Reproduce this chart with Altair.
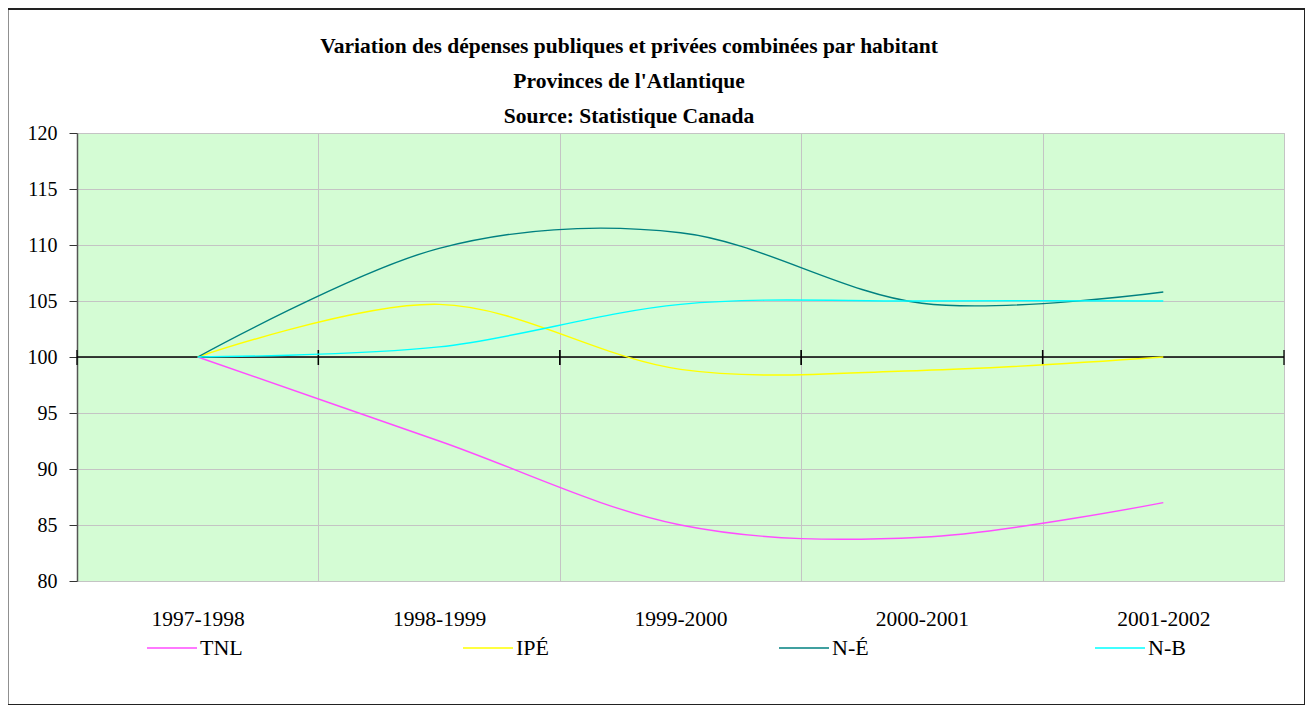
import altair as alt
import pandas as pd

# ---- data ----
periods = ["1997-1998", "1998-1999", "1999-2000", "2000-2001", "2001-2002"]
series_names = ["TNL", "IPÉ", "N-É", "N-B"]
series_colors = ["#ff4dff", "#ffff00", "#008080", "#00ffff"]
tnl = [100.0, 92.5, 85.0, 83.9, 87.0]
ipe = [100.0, 104.7, 98.9, 98.8, 100.0]
ne = [100.0, 109.7, 111.1, 104.8, 105.8]
nb = [100.0, 100.9, 104.7, 105.0, 105.0]
y_ticks = [80, 85, 90, 95, 100, 105, 110, 115, 120]
title_lines = [
    "Variation des dépenses publiques et privées combinées par habitant",
    "Provinces de l'Atlantique",
    "Source: Statistique Canada",
]

rows = []
for name, vals in zip(series_names, [tnl, ipe, ne, nb]):
    for p, v in zip(periods, vals):
        rows.append({"Période": p, "Série": name, "Valeur": v})
df = pd.DataFrame(rows)
per_df = pd.DataFrame({"Période": periods})
one_df = pd.DataFrame({"k": [0]})

FONT = "Liberation Serif"
W, H = 1207, 448

xscale = alt.Scale(type="band", domain=periods, paddingInner=0, paddingOuter=0)
yscale = alt.Scale(domain=[80, 120], nice=False, zero=False)

x_axis = alt.Axis(
    title=None, tickBand="extent", grid=True, gridColor="#c4c4c4", gridWidth=1,
    ticks=False, domain=False, labelFont=FONT, labelFontSize=21.5,
    labelColor="black", labelPadding=27, labelAngle=0,
)
y_axis = alt.Axis(
    title=None, values=y_ticks, grid=True, gridColor="#c4c4c4", gridWidth=1,
    domain=True, domainColor="#555555", domainWidth=1.5, ticks=True,
    tickColor="#333333", tickSize=8, labelFont=FONT, labelFontSize=20,
    labelColor="black", labelPadding=12,
)

# horizontal axis line at 100
hline = alt.Chart(one_df).mark_rule(color="black", strokeWidth=1.3).encode(
    y=alt.Y(datum=100, scale=yscale, axis=y_axis)
)

# crossing tick marks on the 100 line at category boundaries
ticks_start = alt.Chart(per_df).mark_rule(
    color="black", strokeWidth=1.3, yOffset=-7, y2Offset=8
).encode(
    x=alt.X("Période:N", scale=xscale, axis=x_axis, bandPosition=0),
    y=alt.Y(datum=100, scale=yscale, axis=y_axis),
    y2=alt.Y2(datum=100),
)
ticks_end = alt.Chart(per_df).mark_rule(
    color="black", strokeWidth=1.3, yOffset=-7, y2Offset=8
).encode(
    x=alt.X("Période:N", scale=xscale, axis=x_axis, bandPosition=1),
    y=alt.Y(datum=100, scale=yscale, axis=y_axis),
    y2=alt.Y2(datum=100),
)

lines = alt.Chart(df).mark_line(interpolate="cardinal", strokeWidth=1.4).encode(
    x=alt.X("Période:N", scale=xscale, axis=x_axis, bandPosition=0.5),
    y=alt.Y("Valeur:Q", scale=yscale, axis=y_axis),
    color=alt.Color(
        "Série:N",
        scale=alt.Scale(domain=series_names, range=series_colors),
        legend=alt.Legend(
            title=None, orient="none", legendX=69, legendY=489,
            direction="horizontal", columns=4, symbolType="stroke",
            symbolSize=2500, symbolStrokeWidth=1.5, labelFont=FONT,
            labelFontSize=22, labelColor="black", columnPadding=217,
            gridAlign="all", labelOffset=2,
        ),
    ),
    order=alt.Order("Période:N"),
)

# multi-line chart title as a text block above the plot
title = alt.Chart(one_df).mark_text(
    text=title_lines, font=FONT, fontSize=21.5, fontWeight="bold",
    lineHeight=35, color="black", align="center", baseline="middle",
).encode(x=alt.value(552), y=alt.value(-86))

frame = alt.Chart(one_df).mark_rect(
    filled=False, stroke="#222222", strokeWidth=2
).encode(
    x=alt.value(-69.5), x2=alt.value(1228), y=alt.value(-124), y2=alt.value(572)
)

chart = alt.layer(hline, ticks_start, ticks_end, lines, title, frame).properties(
    width=W,
    height=H,
    autosize=alt.AutoSizeParams(type="none"),
    padding={"left": 69, "top": 125, "right": 21, "bottom": 124},
).configure(
    background="white",
    view=alt.ViewConfig(fill="#d4fcd4", stroke="#c4c4c4", strokeWidth=1),
)

chart.save("out.html", embed_options={"renderer": "svg", "actions": False})
